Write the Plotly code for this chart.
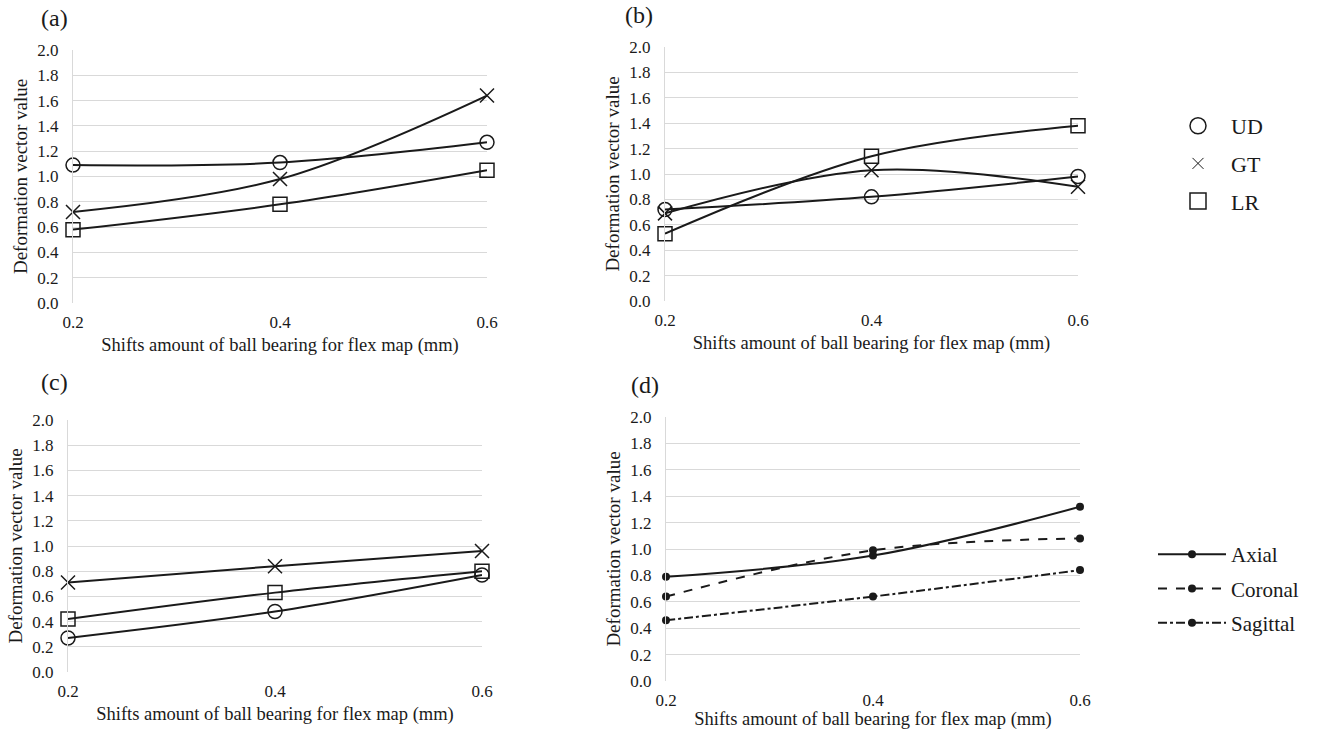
import plotly.graph_objects as go

x_shift = [0.2, 0.4, 0.6]

# Panel (a)
a_ud = [1.09, 1.11, 1.27]
a_gt = [0.72, 0.98, 1.64]
a_lr = [0.58, 0.78, 1.05]
# Panel (b)
b_ud = [0.72, 0.82, 0.98]
b_gt = [0.69, 1.03, 0.90]
b_lr = [0.53, 1.14, 1.38]
# Panel (c)
c_ud = [0.27, 0.48, 0.77]
c_gt = [0.71, 0.84, 0.96]
c_lr = [0.42, 0.63, 0.80]
# Panel (d)
d_axial = [0.79, 0.95, 1.32]
d_coronal = [0.64, 0.99, 1.08]
d_sagittal = [0.46, 0.64, 0.84]

panel_labels = ["(a)", "(b)", "(c)", "(d)"]
x_title = "Shifts amount of ball bearing for flex map (mm)"
y_title = "Deformation vector value"
y_ticks = [0.0, 0.2, 0.4, 0.6, 0.8, 1.0, 1.2, 1.4, 1.6, 1.8, 2.0]

W, H = 1317, 730
FONT = "Liberation Serif"
INK = "#1a1a1a"
GRID = "#d9d9d9"

# plot areas in pixels: (left, right, top, bottom)
areas = [
    (73, 487, 50, 303),
    (665, 1078, 47, 301),
    (68, 482, 420, 672),
    (666, 1080, 417, 681),
]

fig = go.Figure()

sym = {"UD": "circle-open", "GT": "x-thin-open", "LR": "square-open"}
msize = {"UD": 14, "GT": 14, "LR": 14}

def add_marker_series(values, name, axis_idx):
    xa = "x" if axis_idx == 1 else f"x{axis_idx}"
    ya = "y" if axis_idx == 1 else f"y{axis_idx}"
    fig.add_trace(go.Scatter(
        x=x_shift, y=values, mode="lines+markers", name=name,
        line=dict(color=INK, width=2, shape="spline"),
        marker=dict(symbol=sym[name], size=msize[name], color=INK,
                    line=dict(color=INK, width=1.5)),
        cliponaxis=False, showlegend=False, xaxis=xa, yaxis=ya,
    ))

for idx, (ud, gt, lr) in enumerate([(a_ud, a_gt, a_lr), (b_ud, b_gt, b_lr), (c_ud, c_gt, c_lr)], start=1):
    add_marker_series(ud, "UD", idx)
    add_marker_series(gt, "GT", idx)
    add_marker_series(lr, "LR", idx)

# legend-only entries for marker legend
leg_size = {"UD": 20, "GT": 11, "LR": 22}
for name in ["UD", "GT", "LR"]:
    fig.add_trace(go.Scatter(
        x=[None], y=[None], mode="markers", name=name,
        marker=dict(symbol=sym[name], size=leg_size[name], color=INK,
                    line=dict(color=INK, width=1.5 if name != "GT" else 1)),
        showlegend=True, legend="legend", legendgroup=name,
        xaxis="x", yaxis="y",
    ))

dash_map = {"Axial": "solid", "Coronal": "dash", "Sagittal": "dashdot"}
for name, vals in [("Axial", d_axial), ("Coronal", d_coronal), ("Sagittal", d_sagittal)]:
    fig.add_trace(go.Scatter(
        x=x_shift, y=vals, mode="lines+markers", name=name,
        line=dict(color=INK, width=2, dash=dash_map[name], shape="spline"),
        marker=dict(symbol="circle", size=8, color=INK),
        cliponaxis=False, showlegend=True, legend="legend2", legendgroup=name,
        xaxis="x4", yaxis="y4",
    ))

layout = dict(
    width=W, height=H,
    margin=dict(l=0, r=0, t=0, b=0),
    paper_bgcolor="white", plot_bgcolor="white",
    font=dict(family=FONT, color=INK, size=14),
    legend=dict(x=1165 / W, y=1 - 105 / H, xanchor="left", yanchor="top",
                font=dict(family=FONT, size=22, color=INK),
                tracegroupgap=6, itemwidth=56, itemsizing="trace", bgcolor="rgba(0,0,0,0)"),
    legend2=dict(x=1153 / W, y=1 - 534 / H, xanchor="left", yanchor="top",
                 font=dict(family=FONT, size=21, color=INK),
                 tracegroupgap=4, itemwidth=68, bgcolor="rgba(0,0,0,0)"),
)

annotations = []
for i, (l, r, t, b) in enumerate(areas, start=1):
    xk = "xaxis" if i == 1 else f"xaxis{i}"
    yk = "yaxis" if i == 1 else f"yaxis{i}"
    layout[xk] = dict(
        domain=[l / W, r / W], range=[0.2, 0.6],
        tickvals=x_shift, ticktext=[f"{v:.1f}" for v in x_shift],
        showgrid=False, zeroline=False, showline=False,
        ticks="", ticklabelstandoff=7,
        tickfont=dict(family=FONT, size=17, color=INK),
        title=dict(text=x_title, font=dict(family=FONT, size=18.5, color=INK), standoff=7),
        anchor=f"y{i}" if i > 1 else "y", automargin=False, fixedrange=True,
    )
    layout[yk] = dict(
        domain=[1 - b / H, 1 - t / H], range=[0, 2.0],
        tickvals=y_ticks, ticktext=[f"{v:.1f}" for v in y_ticks],
        showgrid=True, gridcolor=GRID, gridwidth=1,
        zeroline=False, showline=True, linecolor=GRID, linewidth=1,
        ticks="", ticklabelstandoff=10,
        tickfont=dict(family=FONT, size=17, color=INK),
        title=dict(text=y_title, font=dict(family=FONT, size=19, color=INK), standoff=4),
        anchor=f"x{i}" if i > 1 else "x", automargin=False, fixedrange=True,
    )

label_pos = [(39, 18), (623, 15), (39, 382), (629, 385)]
for txt, (px, py) in zip(panel_labels, label_pos):
    annotations.append(dict(
        text=txt, x=px / W, y=1 - py / H, xref="paper", yref="paper",
        xanchor="left", yanchor="middle", showarrow=False,
        font=dict(family=FONT, size=24, color=INK),
    ))
layout["annotations"] = annotations

fig.update_layout(**layout)
fig.write_html("out.html", config={"displayModeBar": False},
               post_script="document.body.style.margin='0px';")
